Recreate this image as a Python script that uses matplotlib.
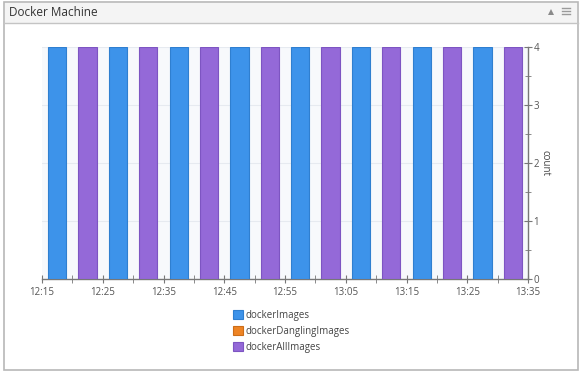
import datetime as dt
import matplotlib
matplotlib.use("Agg")
import matplotlib.pyplot as plt
import matplotlib.dates as mdates
from matplotlib.patches import Rectangle, Polygon, Patch
from matplotlib.lines import Line2D

plt.rcParams['font.family'] = ['Open Sans', 'DejaVu Sans']

# data
series_names = ['dockerImages', 'dockerDanglingImages', 'dockerAllImages']
colors = ['#3d93ea', '#ee8424', '#9469d8']
edge_colors = ['#2f7fd0', '#cc6d18', '#7d55c2']
images_times = ['12:17:30', '12:27:30', '12:37:30', '12:47:30', '12:57:30',
                '13:07:30', '13:17:30', '13:27:30']
images_vals = [4, 4, 4, 4, 4, 4, 4, 4]
dangling_times = []
dangling_vals = []
all_times = ['12:22:30', '12:32:30', '12:42:30', '12:52:30', '13:02:30',
             '13:12:30', '13:22:30', '13:32:30']
all_vals = [4, 4, 4, 4, 4, 4, 4, 4]

day = dt.date(2017, 1, 1)


def to_dt(s):
    return dt.datetime.combine(day, dt.datetime.strptime(s, '%H:%M:%S').time())


fig = plt.figure(figsize=(5.85, 3.76), dpi=100)
W, H = 585, 376


def px(x, y):
    return x / W, 1 - y / H


# panel frame and title bar
fx0, fy0 = px(4, 370)
fx1, fy1 = px(578, 2)
fig.patches.append(Rectangle((fx0, fy0), fx1 - fx0, fy1 - fy0, transform=fig.transFigure,
                             facecolor='white', edgecolor='#b8b8b8', lw=1.2, zorder=-3))
tx0, ty0 = px(5, 23)
fig.patches.append(Rectangle((tx0, ty0), fx1 - tx0 - 0.002, fy1 - ty0 - 0.003, transform=fig.transFigure,
                             facecolor='#f4f4f4', edgecolor='none', zorder=-2))
fig.lines.append(Line2D([fx0, fx1], [ty0, ty0], transform=fig.transFigure, color='#c4c4c4', lw=1,
                        zorder=-1))
fig.text(9 / W, 1 - 12.5 / H, 'Docker Machine', fontsize=8.5, color='#333333', va='center', ha='left')
# header icons
a, b = px(548, 15)
c, d = px(554, 15)
e, f = px(551, 9)
fig.patches.append(Polygon([(a, b), (c, d), (e, f)], closed=True, transform=fig.transFigure,
                           facecolor='#8a8a8a', edgecolor='none', zorder=-1))
for yy in [8, 11, 14]:
    x0, y0 = px(562, yy)
    x1, _ = px(570, yy)
    fig.lines.append(Line2D([x0, x1], [y0, y0], transform=fig.transFigure, color='#9a9a9a', lw=1,
                            zorder=-1))

ax = fig.add_axes([42 / W, 97 / H, (528 - 42) / W, (279 - 47) / H])
ax.set_facecolor('#f7f9fc')

width = 3 / (24 * 60)
for times, vals, col, ec, name in zip([images_times, dangling_times, all_times],
                                      [images_vals, dangling_vals, all_vals],
                                      colors, edge_colors, series_names):
    x = [mdates.date2num(to_dt(t)) for t in times]
    ax.bar(x, vals, width=width, color=col, edgecolor=ec, linewidth=0.8, zorder=3)

ax.set_xlim(mdates.date2num(to_dt('12:15:00')), mdates.date2num(to_dt('13:35:00')))
ax.set_ylim(0, 4)

ax.xaxis.set_major_locator(mdates.MinuteLocator(byminute=[5, 15, 25, 35, 45, 55]))
ax.xaxis.set_minor_locator(mdates.MinuteLocator(byminute=[0, 10, 20, 30, 40, 50]))
ax.xaxis.set_major_formatter(mdates.DateFormatter('%H:%M'))

ax.yaxis.tick_right()
ax.yaxis.set_label_position('right')
ax.set_yticks([0, 1, 2, 3, 4])
ax.set_yticks([0.5, 1.5, 2.5, 3.5], minor=True)
ax.set_ylabel('count', rotation=270, va='bottom', labelpad=0, fontsize=7, color='#444444')

ax.grid(axis='y', color='#e6eaf0', lw=0.8, zorder=1)
for sp in ['top', 'left']:
    ax.spines[sp].set_visible(False)
for sp in ['bottom', 'right']:
    ax.spines[sp].set_color('#777777')
    ax.spines[sp].set_linewidth(1)

ax.tick_params(axis='both', which='both', direction='inout', color='#777777', labelsize=7,
               labelcolor='#555555')
ax.tick_params(axis='x', which='major', length=6, pad=3)
ax.tick_params(axis='x', which='minor', length=6)
ax.tick_params(axis='y', which='major', length=6, pad=1)
ax.tick_params(axis='y', which='minor', length=5)

handles = [Patch(facecolor=c, edgecolor=e, lw=0.8) for c, e in zip(colors, edge_colors)]
leg = fig.legend(handles, series_names, loc='upper center', bbox_to_anchor=(0.498, 1 - 305 / H),
                 ncol=1, frameon=False, fontsize=7, handlelength=1.0, handleheight=1.1,
                 handletextpad=0.3, labelspacing=0.5, borderpad=0)
for t in leg.get_texts():
    t.set_color('#444444')

fig.savefig('out.png', dpi=100)
